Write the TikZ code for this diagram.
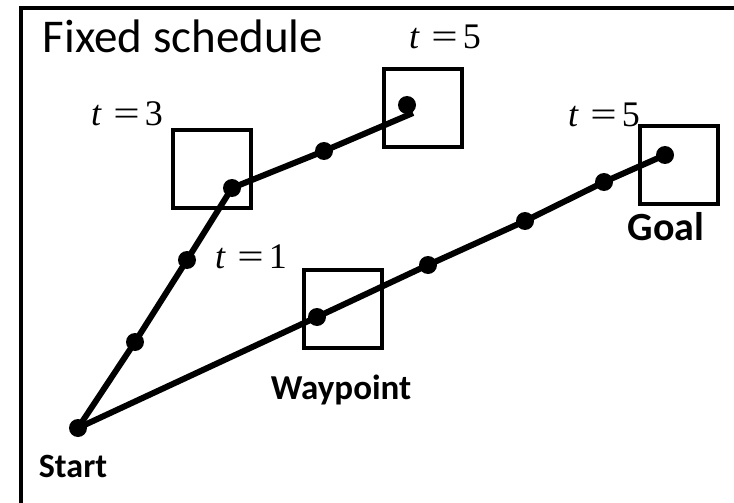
\documentclass[tikz,border=0pt]{standalone}
\usepackage{fontspec}
\setsansfont{Carlito}
\newfontfamily\timesfont{Liberation Serif}
\usepackage{tikz}
\usetikzlibrary{positioning}

\newcommand{\tlab}[1]{\textit{t}\hspace{0.32em}\scalebox{1.3}[1]{=}\hspace{0.14em}#1}

\begin{document}
\begin{tikzpicture}[
    x=1pt, y=-1pt,
    frame/.style={draw, line width=4.5pt},
    zone/.style={draw, line width=3.5pt, minimum size=78pt, inner sep=0pt},
    dot/.style={circle, fill=black, inner sep=0pt, minimum size=18pt},
    route/.style={line width=6pt, line join=round},
    tlabel/.style={font=\timesfont\fontsize{36}{40}\selectfont, inner sep=0pt},
    title/.style={font=\sffamily\fontsize{47}{52}\selectfont, inner sep=0pt},
    tag/.style={font=\sffamily\bfseries\fontsize{34}{40}\selectfont, inner sep=0pt}
]
    \useasboundingbox (0,0) rectangle (734,503);
    \clip (0,0) rectangle (734,503);

    % --- Frame ---
    \draw[frame] (21,8) rectangle (760,540);
    \node[title] (title) at (183,36) {Fixed schedule};

    % --- Boxes ---
    \node[zone] (box3) at (212,169) {};
    \node[zone] (box5) at (423,108) {};
    \node[zone] (goalbox) at (679,165) {};
    \node[zone] (wpbox) at (343,309) {};

    % --- Dots ---
    \node[dot] (start) at (78,428) {};
    % upper route
    \node[dot] (u1) at (135,342) {};
    \node[dot] (u2) at (187,260) {};
    \node[dot] (u3) at (232,188) {};
    \node[dot] (u4) at (324,151) {};
    \node[dot] (u5) at (407,105) {};
    \coordinate (u5end) at (413,113);
    % lower route
    \node[dot] (wp) at (317,317) {};
    \node[dot] (l2) at (428,265) {};
    \node[dot] (l3) at (525,221) {};
    \node[dot] (l4) at (604,182) {};
    \node[dot] (goal) at (665,155) {};

    % --- Routes ---
    \draw[route] (start.center) -- (u1.center) -- (u2.center) -- (u3.center) -- (u4.center) -- (u5end);
    \draw[route] (start.center) -- (wp.center) -- (l2.center) -- (l3.center) -- (l4.center) -- (goal.center);

    % --- Labels ---
    \node[tlabel] (t3) at (127,114) {\tlab{3}};
    \node[tlabel] (t1) at (251,257) {\tlab{1}};
    \node[tlabel] (t5a) at (445,37) {\tlab{5}};
    \node[tlabel] (t5b) at (604,115) {\tlab{5}};

    \node[tag, font=\sffamily\bfseries\fontsize{40}{44}\selectfont] (goallab) at (666,227) {Goal};
    \node[tag, font=\sffamily\bfseries\fontsize{35}{40}\selectfont] (wplab) at (341,390) {Waypoint};
    \node[tag] (startlab) at (73,466) {Start};

\end{tikzpicture}
\end{document}
